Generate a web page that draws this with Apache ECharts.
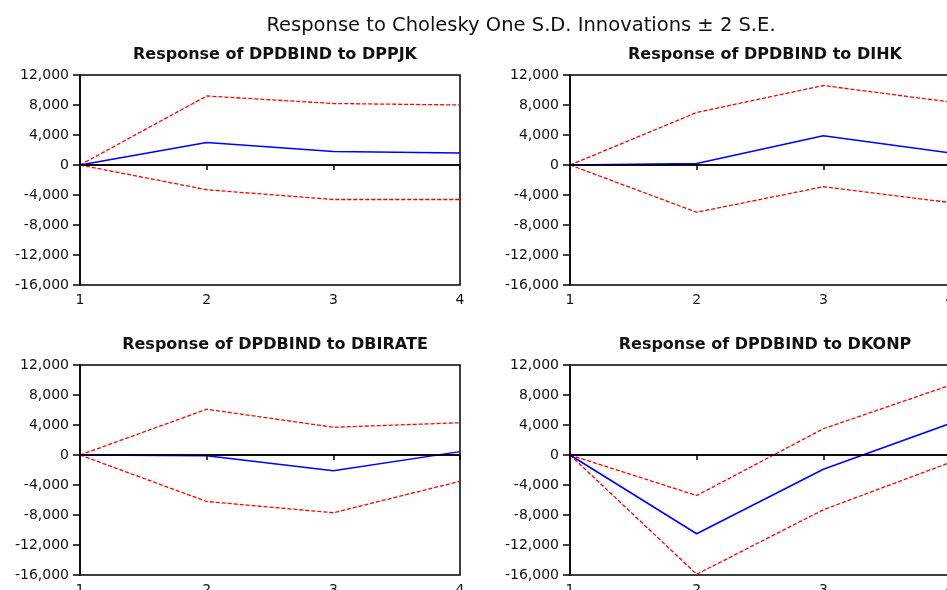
<!DOCTYPE html>
<html>
<head>
<meta charset="utf-8">
<script src="https://cdn.jsdelivr.net/npm/echarts@6/dist/echarts.min.js"></script>
<style>
  html, body { margin: 0; padding: 0; background: #fff; }
  #chart { width: 947px; height: 590px; }
</style>
</head>
<body>
<div id="chart"></div>
<script>
// impulse responses, periods 1..4
var periods = [1, 2, 3, 4];
var yTicks = { min: -16000, max: 12000, step: 4000 };

var mainTitle = 'Response to Cholesky One S.D. Innovations \u00b1 2 S.E.';
var panelTitles = [
  'Response of DPDBIND to DPPJK',
  'Response of DPDBIND to DIHK',
  'Response of DPDBIND to DBIRATE',
  'Response of DPDBIND to DKONP'
];

var dppjkResp  = [0, 3000, 1800, 1600];
var dppjkUpper = [0, 9200, 8200, 8000];
var dppjkLower = [0, -3300, -4600, -4600];

var dihkResp  = [0, 200, 3900, 1600];
var dihkUpper = [0, 7000, 10600, 8400];
var dihkLower = [0, -6300, -2900, -5000];

var dbirateResp  = [0, -100, -2100, 450];
var dbirateUpper = [0, 6100, 3700, 4300];
var dbirateLower = [0, -6200, -7700, -3500];

var dkonpResp  = [0, -10500, -1900, 4200];
var dkonpUpper = [0, -5400, 3500, 9300];
var dkonpLower = [0, -15900, -7300, -1000];

var panels = [
  [dppjkResp, dppjkUpper, dppjkLower],
  [dihkResp, dihkUpper, dihkLower],
  [dbirateResp, dbirateUpper, dbirateLower],
  [dkonpResp, dkonpUpper, dkonpLower]
];

// grid boxes (left, top) of the 4 panels
var boxes = [[80, 75], [570, 75], [80, 365], [570, 365]];
var boxW = 380, boxH = 210;

var font = 'DejaVu Sans';

function pairs(vals) {
  return periods.map(function (p, i) { return [p, vals[i]]; });
}

var grids = [], xAxes = [], yAxes = [], series = [];
var titles = [{
  text: mainTitle,
  left: 516, top: 11, textAlign: 'center',
  textStyle: { fontFamily: font, fontSize: 19.5, fontWeight: 'normal', color: '#111' }
}];

boxes.forEach(function (b, i) {
  grids.push({
    left: b[0], top: b[1], width: boxW, height: boxH,
    outerBoundsMode: 'none', containLabel: false,
    show: true, borderColor: '#000', borderWidth: 1.5, backgroundColor: '#fff'
  });
  titles.push({
    text: panelTitles[i],
    left: b[0] + boxW / 2, top: b[1] - 33, textAlign: 'center',
    textStyle: { fontFamily: font, fontSize: 16, fontWeight: 'bold', color: '#111' }
  });
  xAxes.push({
    type: 'value', gridIndex: i, min: 1, max: 4, interval: 1,
    axisLine: { show: true, lineStyle: { color: '#000', width: 1.5 } },
    axisTick: { show: true, inside: false, length: 5, lineStyle: { color: '#000', width: 1.5 } },
    axisLabel: { margin: 8, fontFamily: font, fontSize: 14, color: '#111' },
    splitLine: { show: false }
  });
  yAxes.push({
    type: 'value', gridIndex: i, min: yTicks.min, max: yTicks.max, interval: yTicks.step,
    axisLine: { show: true, lineStyle: { color: '#000', width: 1.5 } },
    axisTick: { show: true, inside: false, length: 7, lineStyle: { color: '#000', width: 1.5 } },
    axisLabel: { margin: 11, fontFamily: font, fontSize: 14, color: '#111' },
    splitLine: { show: false }
  });

  var d = panels[i];
  series.push({
    type: 'line', xAxisIndex: i, yAxisIndex: i, data: pairs(d[1]),
    symbol: 'none', silent: true,
    lineStyle: { color: '#ff0000', width: 1.3, type: [4, 2] }
  });
  series.push({
    type: 'line', xAxisIndex: i, yAxisIndex: i, data: pairs(d[2]),
    symbol: 'none', silent: true,
    lineStyle: { color: '#ff0000', width: 1.3, type: [4, 2] }
  });
  series.push({
    type: 'line', xAxisIndex: i, yAxisIndex: i, data: pairs(d[0]),
    symbol: 'none', silent: true,
    lineStyle: { color: '#0000ff', width: 1.5 },
    markLine: {
      silent: true, symbol: 'none', label: { show: false },
      lineStyle: { color: '#000', width: 1.5, type: 'solid' },
      data: [{ yAxis: 0 }]
    }
  });
});

var chart = echarts.init(document.getElementById('chart'));
chart.setOption({
  animation: false,
  backgroundColor: '#fff',
  title: titles,
  grid: grids,
  xAxis: xAxes,
  yAxis: yAxes,
  series: series
});
</script>
</body>
</html>
